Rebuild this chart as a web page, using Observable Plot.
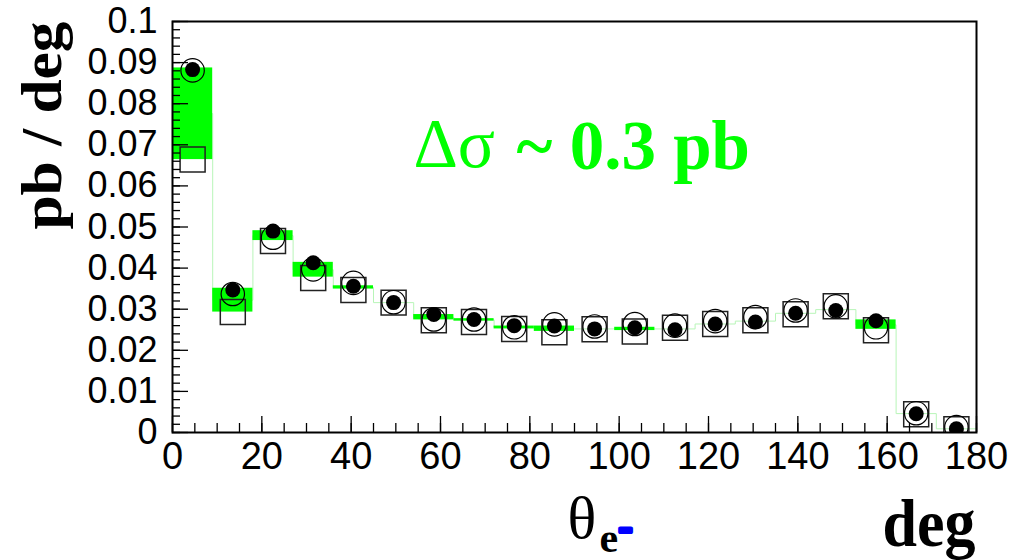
<!DOCTYPE html>
<html>
<head>
<meta charset="utf-8">
<script src="https://cdn.jsdelivr.net/npm/d3@7"></script>
<script src="https://cdn.jsdelivr.net/npm/@observablehq/plot@0.6"></script>
<style>
  html, body { margin: 0; padding: 0; background: #fff; }
  #chart svg { display: block; }
</style>
</head>
<body>
<div id="chart"></div>
<script>
// Angular bins of the scattered electron (degrees)
const binLow  = [0, 9, 18, 27, 36, 45, 54, 63, 72, 81, 90, 99, 108, 117, 126, 135, 144, 153, 162, 171];
const binHigh = [9, 18, 27, 36, 45, 54, 63, 72, 81, 90, 99, 108, 117, 126, 135, 144, 153, 162, 171, 180];
const binMid  = [4.5, 13.5, 22.5, 31.5, 40.5, 49.5, 58.5, 67.5, 76.5, 85.5, 94.5, 103.5, 112.5, 121.5, 130.5, 139.5, 148.5, 157.5, 166.5, 175.5];

// dσ/dθ in pb/deg for the three calculations
const filledDots   = [0.0883, 0.0347, 0.0490, 0.0413, 0.0356, 0.0316, 0.0287, 0.0275, 0.0260, 0.0259, 0.0252, 0.0255, 0.0250, 0.0264, 0.0269, 0.0290, 0.0297, 0.0272, 0.00455, 0.0009];
const openCircles  = [0.0881, 0.0337, 0.0474, 0.0397, 0.0364, 0.0317, 0.0275, 0.0275, 0.0256, 0.0263, 0.0258, 0.0264, 0.0260, 0.0271, 0.0281, 0.0297, 0.0307, 0.0256, 0.0047, 0.0013];
const openSquares  = [0.0664, 0.0293, 0.0466, 0.0376, 0.0347, 0.0316, 0.0273, 0.0269, 0.0252, 0.0244, 0.0251, 0.0246, 0.0255, 0.0264, 0.0273, 0.0288, 0.0307, 0.0249, 0.00445, 0.0008];

// Spread band between the calculations and its central histogram
const bandLow  = [0.0664, 0.0293, 0.0467, 0.0378, 0.0349, 0.0316, 0.0274, 0.0271, 0.0252, 0.0246, 0.0252, 0.0248, 0.0252, 0.0264, 0.0271, 0.0290, 0.0299, 0.0251, 0.0046, 0.0009];
const bandHigh = [0.0887, 0.0351, 0.0491, 0.0414, 0.0357, 0.0316, 0.0287, 0.0277, 0.0259, 0.0259, 0.0252, 0.0256, 0.0252, 0.0264, 0.0271, 0.0290, 0.0299, 0.0274, 0.0046, 0.0009];
const histLine = [0.0776, 0.0322, 0.0479, 0.0396, 0.0353, 0.0316, 0.0280, 0.0274, 0.0256, 0.0252, 0.0252, 0.0252, 0.0252, 0.0264, 0.0271, 0.0290, 0.0299, 0.0262, 0.0046, 0.0009];

// Axis ticks and labels
const xTickValues = [0, 20, 40, 60, 80, 100, 120, 140, 160, 180];
const xTickLabels = ["0", "20", "40", "60", "80", "100", "120", "140", "160", "180"];
const yTickValues = [0, 0.01, 0.02, 0.03, 0.04, 0.05, 0.06, 0.07, 0.08, 0.09, 0.1];
const yTickLabels = ["0", "0.01", "0.02", "0.03", "0.04", "0.05", "0.06", "0.07", "0.08", "0.09", "0.1"];
const xMinorTicks = d3.range(0, 180.001, 5);
const yMinorTicks = d3.range(0, 0.1001, 0.002);

const bins = binLow.map((lo, i) => ({
  x1: lo, x2: binHigh[i], mid: binMid[i],
  filled: filledDots[i], open: openCircles[i], square: openSquares[i],
  lo: bandLow[i], hi: bandHigh[i]
}));
const steps = binLow.map((lo, i) => ({x: lo, y: histLine[i]}))
  .concat([{x: binHigh[binHigh.length - 1], y: histLine[histLine.length - 1]}]);

const W = 1012, H = 560;
const mL = 172, mR = 36, mT = 21, mB = 128;
const frameW = W - mL - mR, frameH = H - mT - mB;

const serif = "Liberation Serif, Times New Roman, serif";
const sans = "Liberation Sans, Arial, Helvetica, sans-serif";
const green = "#00ff00";

const chart = Plot.plot({
  width: W, height: H,
  marginLeft: mL, marginRight: mR, marginTop: mT, marginBottom: mB,
  x: {domain: [0, 180], axis: null},
  y: {domain: [0, 0.1], axis: null},
  style: {fontFamily: sans, background: "#fff", overflow: "visible"},
  marks: [
    // histogram outline (thin light green)
    Plot.line(steps, {x: "x", y: "y", curve: "step-after", stroke: "#b8f5b8", strokeWidth: 1}),
    // spread band
    Plot.rect(bins.filter(d => d.hi > d.lo), {x1: "x1", x2: "x2", y1: "lo", y2: "hi", fill: green}),
    // markers
    Plot.dot(bins, {x: "mid", y: "square", symbol: "square", r: 14.1, fill: "none", stroke: "#222", strokeWidth: 1.5, clip: true}),
    Plot.dot(bins, {x: "mid", y: "open", r: 11.7, fill: "none", stroke: "#000", strokeWidth: 1.2, clip: true}),
    Plot.dot(bins, {x: "mid", y: "filled", r: 7.5, fill: "#000", stroke: "none", clip: true}),
    // inward ticks
    Plot.tickX(xMinorTicks, {x: d => d, insetTop: frameH - 9, stroke: "#000", strokeWidth: 1.3}),
    Plot.tickX(xTickValues, {x: d => d, insetTop: frameH - 16, stroke: "#000", strokeWidth: 1.3}),
    Plot.tickY(yMinorTicks, {y: d => d, insetRight: frameW - 8, stroke: "#000", strokeWidth: 1.3}),
    Plot.tickY(yTickValues, {y: d => d, insetRight: frameW - 16, stroke: "#000", strokeWidth: 1.3}),
    Plot.frame({stroke: "#000", strokeWidth: 2}),
    // tick labels
    Plot.text(xTickValues, {x: d => d, text: (d, i) => xTickLabels[i], frameAnchor: "bottom", dy: 10,
      lineAnchor: "top", fontSize: 38, fill: "#000"}),
    Plot.text(yTickValues, {y: d => d, text: (d, i) => yTickLabels[i], frameAnchor: "left", dx: -15,
      textAnchor: "end", lineAnchor: "middle", fontSize: 36, fill: "#000"}),
    // axis titles
    Plot.text(["pb / deg"], {frameAnchor: "top-left", dx: 60 - mL, dy: 21 - mT, rotate: -90,
      textAnchor: "end", lineAnchor: "bottom", fontSize: 56, fontWeight: "bold", fontFamily: serif, fill: "#000"}),
    Plot.text(["θ"], {frameAnchor: "top-left", dx: 567 - mL, dy: 537 - mT, textAnchor: "start",
      lineAnchor: "bottom", fontSize: 60, fontFamily: serif, fill: "#000"}),
    Plot.text(["e"], {frameAnchor: "top-left", dx: 599 - mL, dy: 551 - mT, textAnchor: "start",
      lineAnchor: "bottom", fontSize: 42, fontWeight: "bold", fontFamily: serif, fill: "#000"}),
    Plot.text(["-"], {frameAnchor: "top-left", dx: 625 - mL, dy: 539 - mT, textAnchor: "middle",
      lineAnchor: "bottom", fontSize: 42, fontWeight: "bold", fontFamily: serif, fill: "#0000ff",
      stroke: "#0000ff", strokeWidth: 4}),
    Plot.text(["deg"], {frameAnchor: "top-left", dx: 882 - mL, dy: 545 - mT, textAnchor: "start",
      lineAnchor: "bottom", fontSize: 68, fontWeight: "bold", fontFamily: serif, fill: "#000"}),
    // annotation
    Plot.text(["Δσ"], {frameAnchor: "top-left", dx: 413 - mL, dy: 166 - mT, textAnchor: "start",
      lineAnchor: "bottom", fontSize: 69, fontFamily: serif, fill: green}),
    Plot.text(["~ 0.3 pb"], {frameAnchor: "top-left", dx: 516 - mL, dy: 168 - mT, textAnchor: "start",
      lineAnchor: "bottom", fontSize: 69, fontWeight: "bold", fontFamily: serif, fill: green})
  ]
});

// stretch the bold titles along their reading direction
d3.select(chart).selectAll("text")
  .filter(function () { return this.textContent === "pb / deg"; })
  .attr("textLength", 208).attr("lengthAdjust", "spacingAndGlyphs");
d3.select(chart).selectAll("text")
  .filter(function () { return this.textContent === "deg"; })
  .attr("textLength", 93).attr("lengthAdjust", "spacingAndGlyphs");

document.getElementById("chart").appendChild(chart);
</script>
</body>
</html>
